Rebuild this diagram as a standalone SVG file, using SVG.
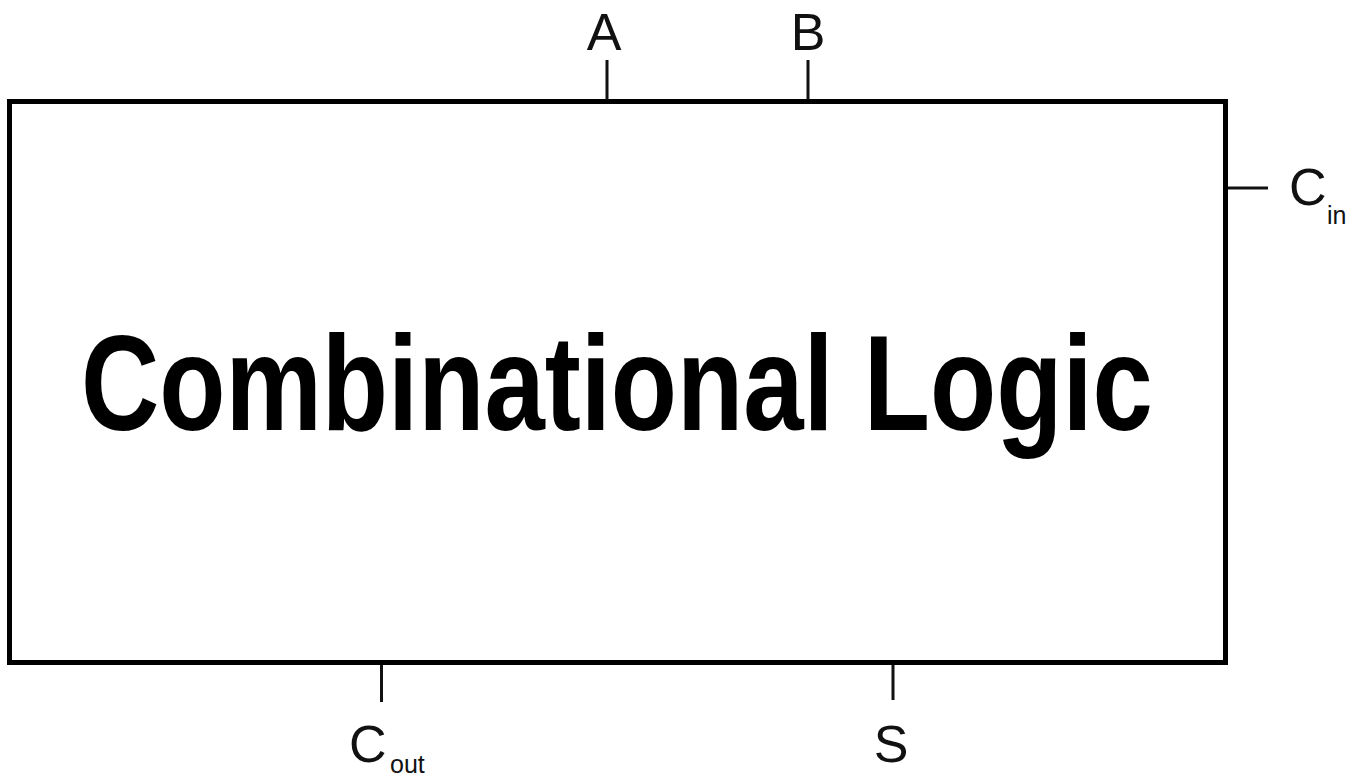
<svg xmlns="http://www.w3.org/2000/svg" width="1351" height="778" viewBox="0 0 1351 778">
<style>
.pin{stroke:#111;stroke-width:3;fill:none}
.lbl{font-family:"Liberation Sans",Arial,sans-serif;font-size:52px;fill:#111}
.sub{font-family:"Liberation Sans",Arial,sans-serif;font-size:25px;fill:#111}
</style>
<rect width="1351" height="778" fill="#fff"/>
<g id="block">
<rect x="9.5" y="101.5" width="1216" height="561" fill="#fff" stroke="#000" stroke-width="5"/>
<text transform="translate(81,430) scale(0.803,1)" x="0" y="0" font-family="Liberation Sans,Arial,sans-serif" font-weight="bold" font-size="135" fill="#000">Combinational Logic</text>
</g>
<g id="connectors">
<line class="pin" x1="607" y1="60" x2="607" y2="100"/>
<line class="pin" x1="808" y1="60" x2="808" y2="100"/>
<line class="pin" x1="1228" y1="188" x2="1268" y2="188"/>
<line class="pin" x1="381.5" y1="665" x2="381.5" y2="702"/>
<line class="pin" x1="893" y1="665" x2="893" y2="700"/>
</g>
<g id="pin-A"><text class="lbl" x="604" y="50" text-anchor="middle">A</text></g>
<g id="pin-B"><text class="lbl" x="808" y="50" text-anchor="middle">B</text></g>
<g id="pin-Cin"><text class="lbl" x="1289" y="205">C</text><text class="sub" x="1327" y="224">in</text></g>
<g id="pin-Cout"><text class="lbl" x="349" y="762">C</text><text class="sub" x="390" y="773">out</text></g>
<g id="pin-S"><text class="lbl" x="891" y="762" text-anchor="middle">S</text></g>
</svg>
